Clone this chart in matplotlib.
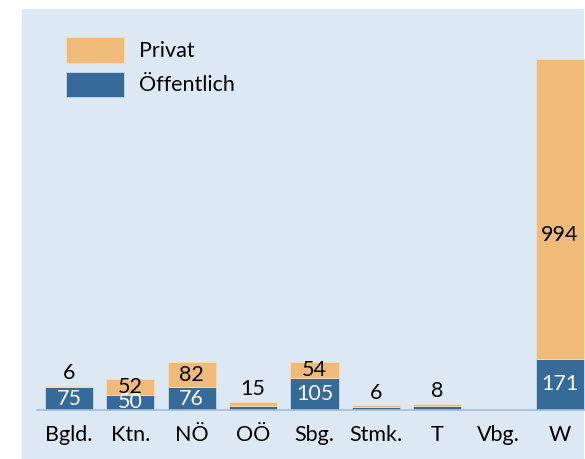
import numpy as np
import matplotlib.pyplot as plt
from matplotlib.patches import Rectangle

plt.rcParams['font.family'] = ['Lato', 'DejaVu Sans']

regions = ['Bgld.', 'Ktn.', 'NÖ', 'OÖ', 'Sbg.', 'Stmk.', 'T', 'Vbg.', 'W']
oeffentlich = [75, 50, 76, 13, 105, 9, 12, 0, 171]
privat = [6, 52, 82, 15, 54, 6, 8, 0, 994]

blue = '#356a99'
orange = '#f0bb78'
bg = '#dde8f5'

W, H = 585, 459
fig = plt.figure(figsize=(W / 100, H / 100), dpi=100)
fig.patch.set_facecolor('white')
fig.patches.append(Rectangle((22 / W, 0), (584 - 22) / W, (H - 9) / H,
                             transform=fig.transFigure, facecolor=bg,
                             edgecolor='none', zorder=-10))

# axes from x=37..585 px, y=10..410 px
ax = fig.add_axes([37 / W, (H - 410) / H, (585 - 37) / W, 400 / H])
ax.set_facecolor('none')
ax.set_zorder(1)

x = np.arange(len(regions))
b1 = ax.bar(x, oeffentlich, width=0.785, color=blue, label='Öffentlich',
            edgecolor='#c9d8ea', linewidth=0.6)
b2 = ax.bar(x, privat, width=0.785, bottom=oeffentlich, color=orange,
            label='Privat', edgecolor='#f7dcb8', linewidth=0.6)

ax.set_xlim(-0.522, 8.41)
ax.set_ylim(0, 1329)

fs = 15.5
for i in range(len(regions)):
    o, p = oeffentlich[i], privat[i]
    if o >= 40:
        ax.text(x[i], o / 2, str(o), ha='center', va='center',
                color='white', fontsize=fs)
    if p == 0:
        continue
    if p >= 40:
        if regions[i] == 'W':
            ax.annotate(str(p), (x[i], o + p / 2), xytext=(0, -19),
                        textcoords='offset points', ha='center',
                        va='center', fontsize=fs)
        else:
            ax.text(x[i], o + p / 2, str(p), ha='center', va='center',
                    fontsize=fs)
    else:
        ax.annotate(str(p), (x[i], o + p), xytext=(0, 2),
                    textcoords='offset points', ha='center',
                    va='bottom', fontsize=fs)

for s in ['top', 'right', 'left']:
    ax.spines[s].set_visible(False)
ax.spines['bottom'].set_color('#a3bcdc')
ax.spines['bottom'].set_linewidth(1.2)
ax.set_yticks([])
ax.set_xticks(x)
ax.set_xticklabels(regions, fontsize=fs)
ax.tick_params(axis='x', length=0, pad=11)

ax.legend([b2, b1], ['Privat', 'Öffentlich'], loc='upper left',
          bbox_to_anchor=(0.018, 0.98), frameon=False, fontsize=fs,
          handlelength=2.7, handleheight=1.45, labelspacing=0.4,
          handletextpad=0.7)

fig.savefig('out.png', dpi=100)
